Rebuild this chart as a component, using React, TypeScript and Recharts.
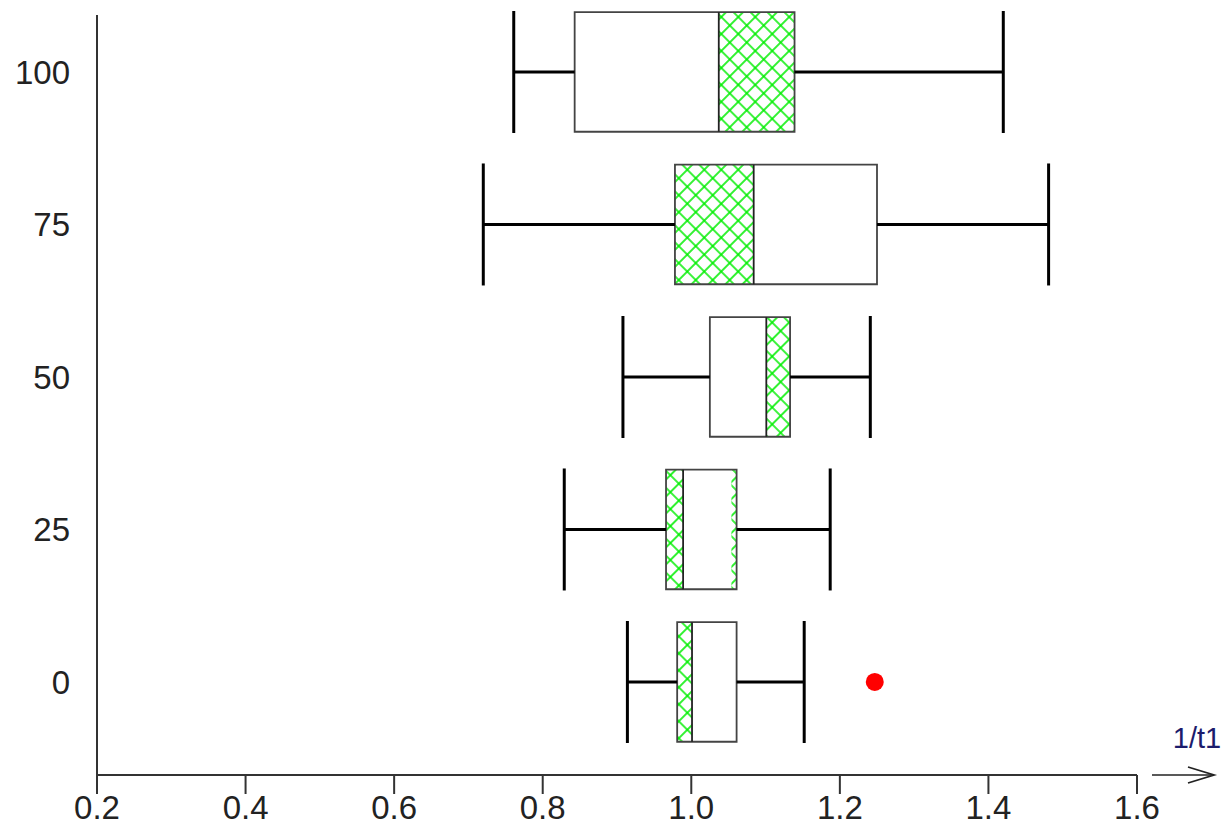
import React from 'react';
import {
  ComposedChart,
  XAxis,
  YAxis,
  Scatter,
  ReferenceArea,
  ReferenceLine,
} from 'recharts';

// y categories (one box each)
const categories = [0, 25, 50, 75, 100];
const whiskerLow = [0.914, 0.829, 0.908, 0.72, 0.761];
const q1 = [0.981, 0.966, 1.025, 0.978, 0.843];
const divider = [1.001, 0.989, 1.101, 1.084, 1.037];
const q3 = [1.061, 1.061, 1.133, 1.25, 1.139];
const whiskerHigh = [1.152, 1.187, 1.241, 1.481, 1.42];

// green cross-hatched parts of the boxes
const hatchCategory = [0, 25, 25, 50, 75, 100];
const hatchStart = [0.981, 0.966, 1.054, 1.101, 0.978, 1.037];
const hatchEnd = [1.001, 0.989, 1.061, 1.133, 1.084, 1.139];

const outlierCategory = [0];
const outlierValue = [1.247];

const xTicks = [0.2, 0.4, 0.6, 0.8, 1.0, 1.2, 1.4, 1.6];
const yTicks = [0, 25, 50, 75, 100];

const FONT = '"Liberation Sans", Arial, sans-serif';
const BOX_HALF = 9.8;
const CAP_HALF = 10;

const outliers = outlierValue.map((v, i) => ({ x: v, y: outlierCategory[i] }));

function AxisArrow(props: any) {
  const vb = props.viewBox || {};
  const x0 = vb.x + vb.width + 15;
  const x1 = vb.x + vb.width + 77;
  const y = vb.y;
  return (
    <g>
      <line x1={x0} y1={y} x2={x1} y2={y} stroke="#222" strokeWidth={1.6} />
      <path
        d={`M${x1 - 26},${y - 8} L${x1},${y} L${x1 - 26},${y + 8}`}
        fill="none"
        stroke="#222"
        strokeWidth={1.8}
      />
      <text
        x={x0 + 45}
        y={y - 27}
        textAnchor="middle"
        fontSize={29}
        fontFamily={FONT}
        fill="#1c1c6c"
      >
        1/t1
      </text>
    </g>
  );
}

export default function App() {
  return (
    <div style={{ position: 'absolute', left: 0, top: 0, background: '#fff' }}>
      <ComposedChart
        width={1227}
        height={837}
        margin={{ top: 15, right: 90, left: 0, bottom: 2 }}
      >
        <defs>
          <pattern
            id="hatch"
            width={12}
            height={12}
            patternUnits="userSpaceOnUse"
            patternTransform="rotate(45)"
          >
            <rect width={12} height={12} fill="#fff" />
            <path d="M6,0 V12 M0,6 H12" stroke="#00ee00" strokeWidth={1.6} />
          </pattern>
        </defs>
        <XAxis
          type="number"
          dataKey="x"
          domain={[0.2, 1.6]}
          ticks={xTicks}
          allowDataOverflow
          height={60}
          tickFormatter={(v) => Number(v).toFixed(1)}
          axisLine={{ stroke: '#333', strokeWidth: 2 }}
          tickLine={{ stroke: '#333', strokeWidth: 2 }}
          tickSize={19}
          tickMargin={2}
          tick={{ fontSize: 33, fill: '#222', fontFamily: FONT }}
          label={{ content: AxisArrow }}
        />
        <YAxis
          type="number"
          dataKey="y"
          domain={[-15.25, 109.34]}
          ticks={yTicks}
          allowDataOverflow
          width={97}
          axisLine={{ stroke: '#333', strokeWidth: 2 }}
          tickLine={false}
          tickSize={0}
          tickMargin={27}
          tick={{ fontSize: 33, fill: '#222', fontFamily: FONT }}
        />

        {categories.map((c, i) => (
          <ReferenceArea
            key={`box-${c}`}
            ifOverflow="visible"
            x1={q1[i]}
            x2={q3[i]}
            y1={c - BOX_HALF}
            y2={c + BOX_HALF}
            fill="#fff"
            fillOpacity={1}
            stroke="none"
          />
        ))}
        {hatchCategory.map((c, i) => (
          <ReferenceArea
            key={`hatch-${i}`}
            ifOverflow="visible"
            x1={hatchStart[i]}
            x2={hatchEnd[i]}
            y1={c - BOX_HALF}
            y2={c + BOX_HALF}
            fill="url(#hatch)"
            fillOpacity={1}
            stroke="none"
          />
        ))}
        {categories.map((c, i) => (
          <ReferenceArea
            key={`outline-${c}`}
            ifOverflow="visible"
            x1={q1[i]}
            x2={q3[i]}
            y1={c - BOX_HALF}
            y2={c + BOX_HALF}
            fill="none"
            stroke="#444"
            strokeWidth={1.8}
          />
        ))}
        {categories.map((c, i) => (
          <ReferenceLine
            key={`div-${c}`}
            ifOverflow="visible"
            segment={[
              { x: divider[i], y: c - BOX_HALF },
              { x: divider[i], y: c + BOX_HALF },
            ]}
            stroke="#222"
            strokeWidth={1.8}
          />
        ))}
        {categories.map((c, i) => (
          <ReferenceLine
            key={`wl-${c}`}
            ifOverflow="visible"
            segment={[
              { x: whiskerLow[i], y: c },
              { x: q1[i], y: c },
            ]}
            stroke="#000"
            strokeWidth={3}
          />
        ))}
        {categories.map((c, i) => (
          <ReferenceLine
            key={`wh-${c}`}
            ifOverflow="visible"
            segment={[
              { x: q3[i], y: c },
              { x: whiskerHigh[i], y: c },
            ]}
            stroke="#000"
            strokeWidth={3}
          />
        ))}
        {categories.map((c, i) => (
          <ReferenceLine
            key={`capl-${c}`}
            ifOverflow="visible"
            segment={[
              { x: whiskerLow[i], y: c - CAP_HALF },
              { x: whiskerLow[i], y: c + CAP_HALF },
            ]}
            stroke="#000"
            strokeWidth={3}
          />
        ))}
        {categories.map((c, i) => (
          <ReferenceLine
            key={`caph-${c}`}
            ifOverflow="visible"
            segment={[
              { x: whiskerHigh[i], y: c - CAP_HALF },
              { x: whiskerHigh[i], y: c + CAP_HALF },
            ]}
            stroke="#000"
            strokeWidth={3}
          />
        ))}
        <Scatter
          data={outliers}
          isAnimationActive={false}
          shape={(p: any) => <circle cx={p.cx} cy={p.cy} r={9} fill="#ff0000" />}
        />
      </ComposedChart>
    </div>
  );
}
